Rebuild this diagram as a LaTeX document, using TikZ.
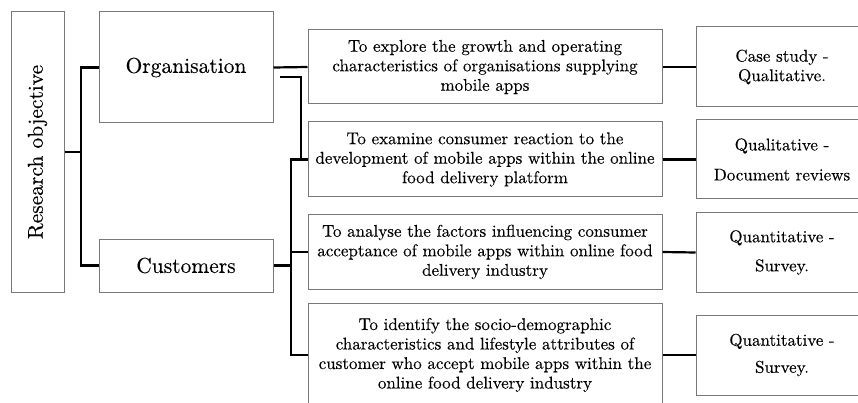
\documentclass[tikz,border=0pt]{standalone}
\usepackage{fontspec}
\setmainfont{lmroman10-regular.otf}[FakeBold=0.2,UprightFeatures={FakeBold=0.2}]
\definecolor{boxgray}{RGB}{120,120,120}
\begin{document}
\begin{tikzpicture}[x=1pt,y=-1pt,
  box/.style={draw=boxgray, line width=1pt, inner sep=0pt, align=center},
  big/.style={font=\fontsize{21.5}{25}\selectfont},
  mid/.style={font=\fontsize{17}{19.5}\selectfont},
  thickline/.style={line width=2.2pt, black},
  thinline/.style={line width=1.1pt, black}]
\useasboundingbox (0,0) rectangle (858,403);
% left column
\node[box, big, minimum width=53pt, minimum height=280pt] (ro) at (37.5,152) {};
\node[big, rotate=90] (rotext) at (ro.center) {Research objective};
\node[box, big, minimum width=174pt, minimum height=111pt] (org) at (186,67.5) {Organisation};
\node[box, big, minimum width=174pt, minimum height=53pt] (cus) at (186,265.5) {Customers};
% middle column
\node[box, mid, minimum width=354pt, minimum height=74pt] (m1) at (485,67)
  {To explore the growth and operating\\characteristics of organisations supplying\\mobile apps};
\node[box, mid, minimum width=354pt, minimum height=75pt] (m2) at (485,159.5)
  {To examine consumer reaction to the\\development of mobile apps within the online\\food delivery platform};
\node[box, mid, minimum width=354pt, minimum height=74pt] (m3) at (485,252)
  {To analyse the factors influencing consumer\\acceptance of mobile apps within online food\\delivery industry};
\node[box, mid, minimum width=354pt, minimum height=104pt] (m4) at (485,355)
  {To identify the socio-demographic\\characteristics and lifestyle attributes of\\customer who accept mobile apps within the\\online food delivery industry};
% right column
\node[box, mid, minimum width=172pt, minimum height=80pt] (r1) at (782,67)
  {Case study -\\Qualitative.};
\node[box, minimum width=172pt, minimum height=79pt, font=\fontsize{17}{30}\selectfont] (r2) at (782,159.5)
  {Qualitative -\\Document reviews};
\node[box, minimum width=172pt, minimum height=79pt, font=\fontsize{17}{29}\selectfont] (r3) at (782,252.5)
  {Quantitative -\\Survey.};
\node[box, minimum width=172pt, minimum height=80pt, font=\fontsize{17}{27}\selectfont] (r4) at (782,355)
  {Quantitative -\\Survey.};
% connectors
\coordinate (j1) at (81,152);
\draw[thickline] (ro.east) -- (j1);
\draw[thickline] (org.west) -| (j1) |- (cus.west);
\draw[thickline] (org.east) -- (m1.west);
\coordinate (t2) at (291,265.5);
\draw[thickline] (cus.east) -- (t2);
\draw[thickline] (m2.west) -| (t2) |- (m4.west);
\draw[thickline] (t2 |- m3.west) -- (m3.west);
\coordinate (ts) at (280,77);
\draw[thinline] (ts) -- (301,77) |- (m2.west);
\draw[thickline] (m1.east) -- (r1.west);
\draw[thickline] (m2.east) -- (r2.west);
\draw[thickline] (m3.east) -- (r3.west);
\draw[thickline] (m4.east) -- (r4.west);
\end{tikzpicture}
\end{document}
